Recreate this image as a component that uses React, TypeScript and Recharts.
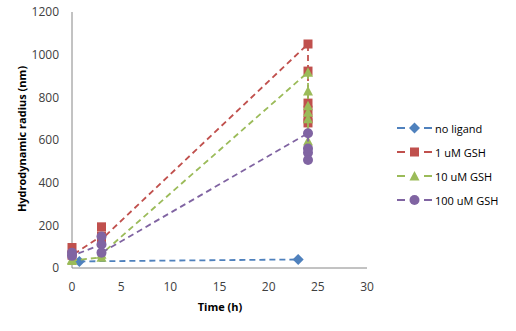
import React from 'react';
import { ScatterChart, Scatter, XAxis, YAxis } from 'recharts';

// time points (h) and hydrodynamic radius (nm) per series, in plotting order
const timeNoLigand = [0.75, 23];
const radiusNoLigand = [31, 40];

const time1uM = [0, 0, 3, 3, 3, 24, 24, 24, 24, 24, 24];
const radius1uM = [96, 60, 150, 193, 134, 1050, 923, 773, 740, 700, 680];

const time10uM = [0, 0, 3, 3, 24, 24, 24, 24, 24, 24];
const radius10uM = [40, 35, 50, 65, 918, 830, 760, 730, 700, 595];

const time100uM = [0, 0, 3, 3, 3, 24, 24, 24, 24];
const radius100uM = [72, 57, 110, 148, 72, 632, 560, 540, 506];

const xTicks = [0, 5, 10, 15, 20, 25, 30];
const yTicks = [0, 200, 400, 600, 800, 1000, 1200];

const seriesNames = ['no ligand', '1 uM GSH', '10 uM GSH', '100 uM GSH'];
const seriesColors = ['#4F81BD', '#C0504D', '#9BBB59', '#8064A2'];

const toPoints = (xs: number[], ys: number[]) => xs.map((x, i) => ({ x, y: ys[i] }));

const FONT = '"Open Sans", "Liberation Sans", sans-serif';
const TEXT = '#404040';

type ShapeProps = { cx?: number; cy?: number; fill?: string };

const Diamond = ({ cx = 0, cy = 0, fill }: ShapeProps) => (
  <path d={`M${cx},${cy - 5.5}L${cx + 5.5},${cy}L${cx},${cy + 5.5}L${cx - 5.5},${cy}Z`} fill={fill} />
);
const Square = ({ cx = 0, cy = 0, fill }: ShapeProps) => (
  <rect x={cx - 4.5} y={cy - 4.5} width={9} height={9} fill={fill} />
);
const Triangle = ({ cx = 0, cy = 0, fill }: ShapeProps) => (
  <path d={`M${cx},${cy - 5}L${cx + 5},${cy + 4.5}L${cx - 5},${cy + 4.5}Z`} fill={fill} />
);
const Circle = ({ cx = 0, cy = 0, fill }: ShapeProps) => <circle cx={cx} cy={cy} r={5} fill={fill} />;

const shapes = [Diamond, Square, Triangle, Circle];

const LegendBox = () => (
  <div style={{ fontFamily: FONT, fontSize: 11, color: '#000' }}>
    {seriesNames.map((name, i) => {
      const Shape = shapes[i];
      return (
        <div key={name} style={{ display: 'flex', alignItems: 'center', height: 24 }}>
          <svg width={38} height={14}>
            <line x1={1} y1={7} x2={9} y2={7} stroke={seriesColors[i]} strokeWidth={2} />
            <line x1={28} y1={7} x2={36} y2={7} stroke={seriesColors[i]} strokeWidth={2} />
            <Shape cx={18.5} cy={7} fill={seriesColors[i]} />
          </svg>
          <span style={{ marginLeft: 1 }}>{name}</span>
        </div>
      );
    })}
  </div>
);

const dashed = (color: string) => ({ stroke: color, strokeWidth: 1.8, strokeDasharray: '6 4' });

export default function App() {
  const data = [
    toPoints(timeNoLigand, radiusNoLigand),
    toPoints(time1uM, radius1uM),
    toPoints(time10uM, radius10uM),
    toPoints(time100uM, radius100uM),
  ];

  return (
    <div style={{ position: 'absolute', left: 0, top: 0, width: 516, height: 331, background: '#fff' }}>
      <ScatterChart width={516} height={331} margin={{ top: 12, right: 149, left: 0, bottom: 33 }}>
        <XAxis
          type="number"
          dataKey="x"
          domain={[0, 30]}
          ticks={xTicks}
          tickLine={false}
          tickMargin={8}
          stroke="#868686"
          tick={{ fill: TEXT, fontSize: 12, fontFamily: FONT }}
          height={30}
        />
        <YAxis
          type="number"
          dataKey="y"
          domain={[0, 1200]}
          ticks={yTicks}
          tickLine={false}
          tickMargin={7}
          stroke="#868686"
          tick={{ fill: TEXT, fontSize: 12, fontFamily: FONT }}
          width={72}
        />
        {data.map((pts, i) => (
          <Scatter
            key={seriesNames[i]}
            name={seriesNames[i]}
            data={pts}
            fill={seriesColors[i]}
            line={dashed(seriesColors[i])}
            shape={shapes[i]}
            isAnimationActive={false}
          />
        ))}
        <text
          x={220}
          y={311}
          textAnchor="middle"
          fontFamily={FONT}
          fontSize={11}
          fontWeight="bold"
          fill="#000"
        >
          Time (h)
        </text>
        <text
          x={26}
          y={139}
          transform="rotate(-90 26 139)"
          textAnchor="middle"
          fontFamily={FONT}
          fontSize={11}
          fontWeight="bold"
          fill="#000"
        >
          Hydrodynamic  radius (nm)
        </text>
      </ScatterChart>
      <div style={{ position: 'absolute', left: 396, top: 116 }}>
        <LegendBox />
      </div>
    </div>
  );
}
